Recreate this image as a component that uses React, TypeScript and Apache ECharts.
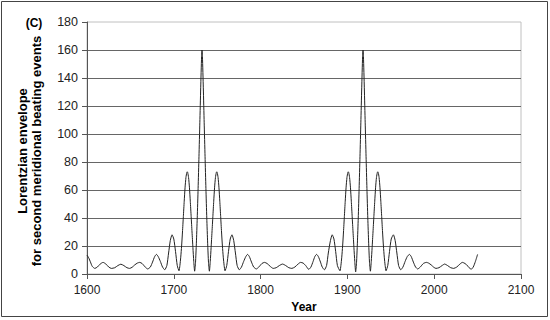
import React, { useEffect, useRef } from "react";
import * as echarts from "echarts";

// Year positions and envelope values (segments aligned line by line)
const years: number[] = [
  1600, 1602, 1604, 1606, 1609, 1612, 1615, 1618.5, 1622, 1625, 1628, 1632, 1635.5, 1639, 1642.5, 1646, 1649,
  1652, 1655, 1658, 1660.7, 1663.5, 1667, 1670, 1673, 1675.5, 1678, 1680, 1682, 1684.5, 1687, 1689.5,
  1692, 1694, 1696, 1698, 1700, 1702, 1704,
  1706, 1707, 1708, 1709, 1710, 1711, 1712, 1713, 1714, 1715,
  1715.5,
  1716, 1717, 1718, 1719, 1720, 1721, 1722, 1723, 1724, 1725, 1726, 1727, 1728, 1729, 1730, 1731, 1732,
  1732.5,
  1733, 1734, 1735, 1736, 1737, 1738, 1739, 1740, 1741, 1742, 1743, 1744, 1745, 1746, 1747, 1748, 1749,
  1749.5,
  1750, 1751, 1752, 1753, 1754, 1755, 1756, 1757, 1758, 1759,
  1761, 1763, 1765, 1767, 1769, 1771, 1773, 1775.5, 1778, 1780.5, 1783, 1785, 1787, 1789.5, 1792, 1795, 1798,
  1801.5, 1804.5, 1807.5, 1811, 1814.5, 1818, 1821.5, 1825.3, 1829, 1832.5, 1836, 1839.5, 1843, 1846,
  1849, 1852, 1855.5, 1858, 1860.5, 1862.5, 1864.5, 1866.5, 1869, 1871, 1873.5, 1876, 1878, 1880.5, 1882.5, 1884.5, 1886.5, 1888.5,
  1891.5, 1892.5, 1893.5, 1894.5, 1895.5, 1896.5, 1897.5, 1898.5, 1899.5, 1900.5,
  1901,
  1901.5, 1902.5, 1903.5, 1904.5, 1905.5, 1906.5, 1907.5, 1908.5, 1909.5, 1910.5, 1911.5, 1912.5, 1913.5, 1914.5, 1915.5, 1916.5, 1917.5,
  1918,
  1918.5, 1919.5, 1920.5, 1921.5, 1922.5, 1923.5, 1924.5, 1925.5, 1926.5, 1927.5, 1928.5, 1929.5, 1930.5, 1931.5, 1932.5, 1933.5, 1934.5,
  1935,
  1935.5, 1936.5, 1937.5, 1938.5, 1939.5, 1940.5, 1941.5, 1942.5, 1943.5, 1944.5,
  1946.5, 1948.5, 1950.5, 1953, 1955, 1957, 1959, 1961.5, 1964, 1966.5, 1969, 1971.5, 1973.5, 1976,
  1978.5, 1981, 1984, 1987.5, 1991, 1993.5, 1996.5, 1999.5, 2002, 2005.5, 2009, 2012, 2015.5, 2019,
  2022.5, 2026, 2029.5, 2032.5, 2035.5, 2039, 2042.5, 2045, 2047.5, 2050,
];
const envelope: number[] = [
  13.5, 11.5, 8.5, 5.5, 4, 5, 7, 8.3, 7, 5, 4, 4.5, 6, 7, 6, 4.5, 4,
  4.8, 6.5, 7.8, 8.3, 7.5, 5, 3.6, 5, 8.5, 12.5, 14, 12.5, 9, 5, 3,
  6, 15, 24, 28, 25, 16, 6,
  2.3, 6, 12, 20, 30, 41, 52, 62, 69, 72.5,
  73,
  72.5, 69, 62, 52, 41, 30, 19, 9, 2, 8, 22, 40, 61, 84, 108, 133, 155,
  160,
  155, 133, 108, 84, 61, 40, 22, 8, 2, 9, 19, 30, 41, 52, 62, 69, 72.5,
  73,
  72.5, 69, 62, 52, 41, 30, 20, 12, 6, 2.3,
  6, 16, 25, 28, 24, 15, 6, 3, 5, 9, 12.5, 14, 12.5, 8.5, 5, 3.6, 5,
  7.5, 8.3, 7.5, 5.5, 4, 4.5, 6, 7.1, 6, 4.5, 4, 5, 7, 8.3,
  7.8, 6, 3.3, 5, 9, 12.5, 14, 12.5, 8.5, 5, 3, 6, 15, 24, 28, 25, 16, 6,
  2.3, 6, 12, 20, 30, 41, 52, 62, 69, 72.5,
  73,
  72.5, 69, 62, 52, 41, 30, 19, 9, 1.5, 8, 22, 40, 61, 84, 108, 133, 155,
  160,
  155, 133, 108, 84, 61, 40, 22, 8, 2, 9, 19, 30, 41, 52, 62, 69, 72.5,
  73,
  72.5, 69, 62, 52, 41, 30, 20, 12, 6, 2.3,
  6, 16, 25, 28, 24, 15, 6, 3, 5, 9, 12.5, 14, 12.5, 8.5,
  5, 3.6, 5, 7.5, 8.3, 7.8, 6.5, 4.8, 4, 4.5, 6, 7.1, 6, 4.5,
  4, 5, 7, 8.3, 7.5, 5.5, 3.3, 5, 9, 14,
];

const xMin = 1600;
const xMax = 2100;
const xStep = 100;
const yMin = 0;
const yMax = 180;
const yStep = 20;

const FONT = "'Liberation Sans', Arial, sans-serif";

export default function App() {
  const ref = useRef<HTMLDivElement>(null);
  useEffect(() => {
    if (!ref.current) return;
    const chart = echarts.init(ref.current, undefined, { renderer: "svg" });
    const n = Math.min(years.length, envelope.length);
    const data = years.slice(0, n).map((y, i) => [y, envelope[i]]);
    chart.setOption({
      animation: false,
      backgroundColor: "#ffffff",
      grid: {
        left: 87,
        right: 29,
        top: 22,
        bottom: 46,
        show: true,
        borderColor: "#c0c0c0",
        borderWidth: 1,
      },
      xAxis: {
        type: "value",
        min: xMin,
        max: xMax,
        interval: xStep,
        name: "Year",
        nameLocation: "middle",
        nameGap: 26,
        nameTextStyle: { fontFamily: FONT, fontWeight: "bold", fontSize: 12, color: "#000" },
        axisLine: { show: true, lineStyle: { color: "#555", width: 1 } },
        axisTick: { show: true, inside: false, length: 5, lineStyle: { color: "#555" } },
        axisLabel: {
          fontFamily: FONT,
          fontSize: 12,
          color: "#222",
          margin: 10,
          formatter: (v: number) => String(v),
        },
        splitLine: { show: false },
      },
      yAxis: {
        type: "value",
        min: yMin,
        max: yMax,
        interval: yStep,
        axisLine: { show: true, lineStyle: { color: "#555", width: 1 } },
        axisTick: { show: true, inside: false, length: 5, lineStyle: { color: "#555" } },
        axisLabel: { fontFamily: FONT, fontSize: 12.5, color: "#222", margin: 9 },
        splitLine: { show: true, showMaxLine: false, lineStyle: { color: "#666", width: 1 } },
      },
      graphic: [
        {
          type: "rect",
          shape: { x: 1.5, y: 1.5, width: 546, height: 315 },
          style: { fill: "none", stroke: "#444", lineWidth: 1 },
          silent: true,
        },
        {
          type: "text",
          x: 34,
          y: 23,
          style: {
            text: "(C)",
            font: `bold 12px ${FONT}`,
            fill: "#000",
            textAlign: "center",
            textVerticalAlign: "middle",
          },
        },
        {
          type: "text",
          x: 29,
          y: 151,
          rotation: Math.PI / 2,
          style: {
            text: "Lorentzian envelope\nfor second meridional beating events",
            font: `bold 13px ${FONT}`,
            fill: "#000",
            textAlign: "center",
            textVerticalAlign: "middle",
            lineHeight: 14,
          },
        },
      ],
      series: [
        {
          type: "line",
          data,
          showSymbol: false,
          smooth: 0.2,
          lineStyle: { color: "#222", width: 1 },
        },
      ],
    });
    return () => chart.dispose();
  }, []);
  return (
    <div
      ref={ref}
      style={{ position: "fixed", left: 0, top: 0, width: 550, height: 320, background: "#fff" }}
    />
  );
}
